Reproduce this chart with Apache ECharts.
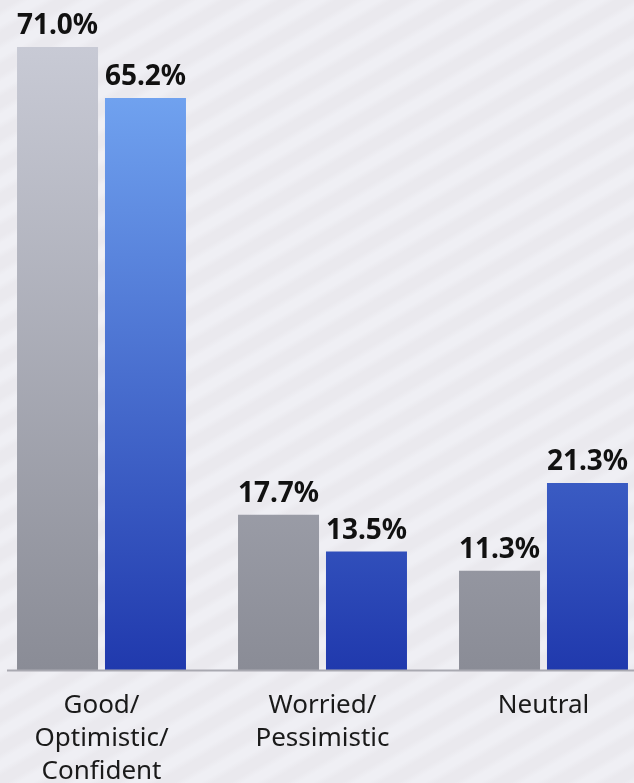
<!DOCTYPE html>
<html>
<head>
<meta charset="utf-8">
<script src="https://cdn.jsdelivr.net/npm/echarts@6/dist/echarts.min.js"></script>
<style>
  html, body { margin: 0; padding: 0; }
  #chart {
    width: 634px; height: 783px;
    background-color: #ebeaef;
    background-image: repeating-linear-gradient(150deg,
      #eae9ee 0px, #eae9ee 9px, #efeff4 15px, #efeff4 22px, #eae9ee 28px);
  }
</style>
</head>
<body>
<div id="chart"></div>
<script>
// Survey sentiment: two groups per response category (percent)
const categories = ['Good/\nOptimistic/\nConfident', 'Worried/\nPessimistic', 'Neutral'];
const greyValues = [71.0, 17.7, 11.3];
const blueValues = [65.2, 13.5, 21.3];

const chart = echarts.init(document.getElementById('chart'), null, { renderer: 'canvas' });

const FONT = '"Noto Sans", "DejaVu Sans", sans-serif';
const baseY = 670;

function vGrad(top, bottom) {
  return new echarts.graphic.LinearGradient(0, 47, 0, baseY, [
    { offset: 0, color: top },
    { offset: 1, color: bottom }
  ], true);
}

const valueLabel = {
  show: true,
  position: 'top',
  distance: 7,
  formatter: p => p.value.toFixed(1) + '%',
  fontFamily: FONT,
  fontWeight: 'bold',
  fontSize: 28,
  color: '#111111'
};

chart.setOption({
  backgroundColor: 'transparent',
  animation: false,
  grid: {
    left: -9, right: -20, top: 0, bottom: 783 - baseY,
    containLabel: false,
    outerBoundsMode: 'none'
  },
  xAxis: {
    type: 'category',
    data: categories,
    axisLine: { show: false },
    axisTick: { show: false },
    axisLabel: {
      margin: 19,
      fontFamily: FONT,
      fontSize: 26,
      lineHeight: 33,
      color: '#1a1a1a',
      interval: 0
    }
  },
  yAxis: {
    type: 'value',
    min: 0,
    max: 76.36,
    show: false,
    splitLine: { show: false }
  },
  series: [
    {
      name: 'Group A',
      type: 'bar',
      data: greyValues,
      barWidth: 81,
      barGap: '8.6%',
      itemStyle: { color: vGrad('#c8cad5', '#8a8c96') },
      label: valueLabel
    },
    {
      name: 'Group B',
      type: 'bar',
      data: blueValues,
      barWidth: 81,
      itemStyle: { color: vGrad('#77abf5', '#2039ad') },
      label: valueLabel
    }
  ],
  graphic: [
    {
      type: 'line',
      shape: { x1: 7, y1: baseY + 0.5, x2: 634, y2: baseY + 0.5 },
      style: { stroke: '#a9a9b1', lineWidth: 2 },
      z: 10
    }
  ]
});
</script>
</body>
</html>
